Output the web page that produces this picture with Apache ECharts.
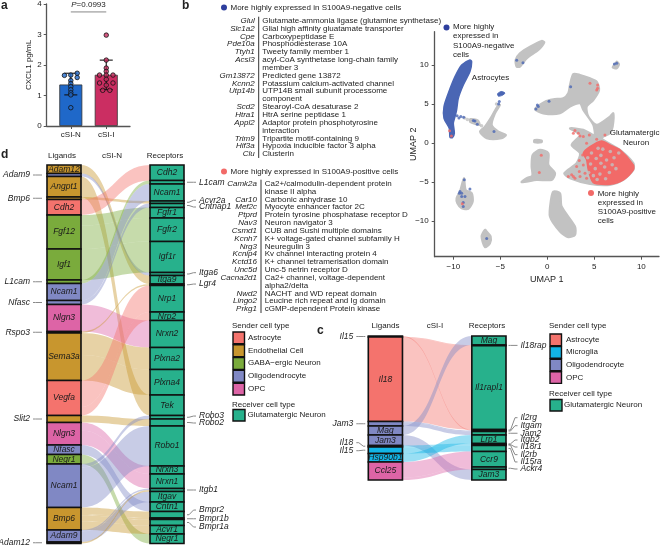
<!DOCTYPE html>
<html><head><meta charset="utf-8">
<style>html,body{margin:0;padding:0;background:#fff}#c{width:660px;height:545px}</style>
<script src="https://cdn.jsdelivr.net/npm/echarts@6/dist/echarts.min.js"></script>
</head><body><div id="c"></div>
<script>
// ---------- panel a ----------
const aGroups = ['cSI-N', 'cSI-I'];
const aMeans = [1.36, 1.68];
const aErrLow = [1.02, 1.19];
const aErrHigh = [1.73, 2.16];
const aDotsN = [[0.82,1.66],[1.18,1.73],[1.18,1.59],[1,1.67],[1,1.49],[1,1.39],[1,1.29],[1,1.19],[1,1.09],[1,1.02],[1,0.6]];
const aDotsI = [[2,2.98],[2,2.16],[2,1.9],[2,1.79],[2,1.67],[1.81,1.67],[2.19,1.67],[2,1.53],[1.81,1.41],[2.19,1.41],[2,1.34],[1.9,1.17],[2.1,1.17]];
const aPValue = '=0.0993';
// ---------- panel b gene lists ----------
const negGenes = ['Glul','Slc1a2','Cpe','Pde10a','Ttyh1','Acsl3','Gm13872','Kcnn2','Utp14b','Scd2','Htra1','Appl2','Trim9','Hif3a','Clu'];
const negDesc = ['Glutamate-ammonia ligase (glutamine synthetase)','Glial high affinity gluatamate transporter','Carboxypeptidase E','Phosphodiesterase 10A','Tweety family member 1','acyl-CoA synthetase long-chain family\nmember 3','Predicted gene 13872','Potassium calcium-activated channel','UTP14B small subunit processome\ncomponent','Stearoyl-CoA desaturase 2','HtrA serine peptidase 1','Adaptor protein phosphotyrosine\ninteraction','Tripartite motif-containing 9','Hypoxia inducible factor 3 alpha','Clusterin'];
const posGenes = ['Camk2a','Car10','Mef2c','Ptprd','Nav3','Csmd1','Kcnh7','Nrg3','Kcnip4','Kctd16','Unc5d','Cacna2d1','Nwd2','Lingo2','Prkg1'];
const posDesc = ['Ca2+/calmodulin-dependent protein\nkinase II alpha','Carbonic anhydrase 10','Myocyte enhancer factor 2C','Protein tyrosine phosphatase receptor D','Neuron navigator 3','CUB and Sushi multiple domains','K+ voltage-gated channel subfamily H','Neuregulin 3','Kv channel interacting protein 4','K+ channel tetramerisation domain','Unc-5 netrin receptor D','Ca2+ channel, voltage-dependent\nalpha2/delta','NACHT and WD repeat domain','Leucine rich repeat and Ig domain','cGMP-dependent Protein kinase'];
// ---------- UMAP (in UMAP units) ----------
const greyBlobs = [
 [[-3.37,10.64],[-2.91,11.5],[-1.84,12.35],[-0.6,13.08],[-0.32,12.9],[-0.96,11.92],[-2.2,10.85],[-2.91,9.79],[-3.26,9.79]],
 [[7.27,10.2],[7.38,10.43],[7.62,10.09],[7.38,9.57],[6.95,9.7]],
 [[-1.31,4.32],[-0.25,5.3],[0.64,5.6],[1.7,5.73],[2.23,6.37],[2.41,7.44],[2.77,8.85],[3.48,8.72],[4.54,8.29],[5.25,7.86],[5.5,6.79],[4.89,5.51],[4.18,4.66],[4.36,3.38],[5.25,2.31],[6.67,3.38],[7.02,3.8],[6.95,2.1],[6.67,1.24],[5.78,0.6],[7.73,-0.9],[9.15,-2.6],[9.15,-3.46],[8.09,-4.74],[6.67,-5.38],[4.54,-5.26],[2.41,-4.53],[1.81,-3.89],[3.12,-2.6],[3.48,-1.32],[2.59,-0.26],[3.48,1.03],[2.41,1.88],[3.83,1.67],[5.0,1.0],[4.89,2.31],[3.83,4.23],[3.48,5.09],[2.41,4.66],[1.35,3.8],[-0.43,3.8]],
 [[-5.32,4.66],[-5.92,3.38],[-6.63,2.09],[-7.16,1.45],[-6.45,0.6],[-4.86,0.6],[-4.4,1.03],[-5.21,1.45],[-5.92,2.31],[-5.57,3.8],[-5.04,4.87]],
 [[-1.67,-3.03],[-1.56,-1.54],[-0.78,-0.9],[0.11,-1.32],[0.11,-2.82],[0.82,-3.89],[0.46,-4.74],[-1.13,-4.74],[-2.73,-5.04],[-2.2,-4.53],[-1.6,-4.2]],
 [[0.64,-6.24],[1.35,-6.45],[1.52,-8.16],[2.94,-10.73],[2.94,-11.79],[2.23,-12.09],[1.35,-11.37],[0.28,-9.44],[0.39,-7.31]],
 [[-9.65,-7.09],[-9.29,-6.24],[-8.87,-4.53],[-8.69,-6.03],[-8.05,-6.45],[-7.94,-7.52],[-8.4,-8.46],[-9.11,-8.38],[-9.57,-7.74]],
 [[-6.63,-11.15],[-6.99,-12.0],[-6.63,-13.38],[-6.1,-12.86],[-6.03,-12.0],[-6.45,-11.37]],
 [[-1.38,0.35],[-0.6,0.3],[-0.6,0.1],[-1.38,0.1]],
 [[-8.2,3.05],[-7.4,2.9],[-7.2,2.3],[-7.6,2.4],[-8.2,2.7]]
];
const greyDots = [[-8.8,3.2],[-8.5,3.0],[-8.1,2.9],[-7.0,2.2],[-6.6,1.9],[-5.4,5.0],[4.7,-1.3],[5.2,-2],[4.6,-2.7],[5.1,-3.3],[5.7,-1.6],[4.9,-4.2],[5.6,-4],[6.1,-3.1],[6.3,-2.2],[5.9,-0.8],[6.7,-1.1],[5.3,-4.7],[6.6,-3.8],[4.4,-3.8],[7.1,-1.9],[6.2,-4.6],[5.7,-2.6],[5.4,-0.7],[7.6,-1.3],[7.3,-3.3],[6.9,-2.8],[4.3,-1.9]];
const astroBlob = [[-8.23,10.64],[-8.05,10.43],[-8.23,9.15],[-8.94,7.44],[-9.47,5.73],[-9.65,4.23],[-9.82,3.38],[-10,2.52],[-9.89,1.24],[-10.1,0.68],[-10.35,0.73],[-10.43,1.88],[-10.99,3.16],[-10.99,4.66],[-10.53,6.37],[-9.82,8.5],[-9.11,10]];
const blueBlob = [[-5.3,6.3],[-4.9,6.6],[-4.5,6.4],[-4.8,6.1],[-5.2,6.0]];
const redBlob = [[3.83,-1.32],[4.54,-0.47],[5.78,0.26],[6.67,-0.26],[7.73,-0.9],[9.15,-2.82],[9.15,-3.46],[8.09,-4.74],[6.67,-5.3],[4.89,-5.09],[4.36,-3.46],[4.18,-2.18]];
const blueDots = [[-3.26,10.6],[-2.59,10.3],[2.48,7.22],[0.18,5.34],[-1.06,4.87],[-1.21,4.36],[-0.96,4.66],[7.13,10.13],[7.38,10.21],[-5.11,5.3],[-5.18,5.0],[-7.7,2.82],[-7.45,2.39],[-7.87,2.86],[-5.67,1.45],[-8.83,-4.74],[-9.29,-6.24],[-9.11,-6.45],[-9.36,-6.45],[-9.11,-6.88],[-8.76,-6.88],[-8.23,-5.9],[-8.94,-7.65],[-8.94,-8.16],[-6.45,-12.26],[-9.6,3.5],[-9.2,3.4],[-8.9,3.3],[-9.4,3.2]];
const redDots = [[-10.4,1.55],[-10.2,0.9],[-9.04,-7.82],[-0.64,-1.58],[-0.85,-3.8],[4.54,7.65],[5.35,7.44],[5.35,7.01],[5.25,6.79],[2.94,1.58],[2.77,1.24],[3.3,1.24],[3.83,0.81],[4.47,1.03],[4.18,-0.04],[5.25,0.47],[3.48,0.9],[6.13,1.03],[2.23,-4.32],[2.59,-4.1],[3.12,-3.03],[3.4,-3.68],[3.83,-2.82],[3.48,-4.32],[4.01,-3.89],[4.18,-4.53],[2.94,-4.53],[3.76,-1.54],[3.4,-2.26],[2.77,-4.32]];
// ---------- alluvial d ----------
const senderColors = {Astrocyte:'#f4736d',Endo:'#c8962e',GABA:'#7aab3c',Oligo:'#8088c4',OPC:'#dd64a6',Micro:'#12b5e6'};
const receiverColor = '#27b18c';
const dLigands = ['Adam12','Adam9','Angpt1','Bmp6','Cdh2','Fgf12','Igf1','L1cam','Ncam1','Nfasc','Nlgn3','Rspo3','Sema3a','Vegfa','Slit2','Nlgn3','Nfasc','Negr1','Ncam1','Bmp6','Adam9','Adam12'];
const dSenders = ['Endo','Oligo','Endo','Endo','Astrocyte','GABA','GABA','GABA','Oligo','Oligo','OPC','Endo','Endo','Astrocyte','Endo','OPC','Oligo','GABA','Oligo','Endo','Oligo','Endo'];
const dReceptors = ['Cdh2','L1cam','Ncam1','Acvr2a','Cntnap1','Fgfr1','Fgfr2','Igf1r','Itga6','Itga9','Lgr4','Nrp1','Nrp2','Nrxn2','Plxna2','Plxna4','Tek','Robo3','Robo2','Robo1','Nrxn3','Nrxn1','Itgb1','Itgav','Cntn1','Bmpr2','Bmpr1b','Bmpr1a','Acvr1','Negr1'];
const dFlows = [[0,'Itga9',8.5],[1,'Itga6',3],[2,'Tek',20.5],[3,'Acvr2a',2.5],[4,'Cdh2',15.5],[5,'Fgfr1',10.5],[5,'Fgfr2',23.5],[6,'Igf1r',31],[7,'L1cam',3.5],[8,'Ncam1',17],[9,'Cntnap1',4],[10,'Nrxn2',27],[11,'Lgr4',1.5],[12,'Plxna2',22],[12,'Plxna4',25.5],[13,'Nrp1',26.5],[13,'Nrp2',8.5],[14,'Robo2',7],[15,'Nrxn3',8],[15,'Nrxn1',14.5],[16,'Cntn1',9.5],[17,'Negr1',9.5],[18,'Robo3',3.5],[18,'Robo1',40],[19,'Bmpr2',6.5],[19,'Bmpr1b',1.5],[19,'Bmpr1a',6],[19,'Acvr1',8.5],[20,'Itgb1',1.5],[20,'Itgav',10.5],[21,'Itgb1',1.5]];
const dRightShift = {Acvr2a:-2,Cntnap1:1.5,Itga6:-1.3,Lgr4:-0.7,Robo3:-1.2,Robo2:0.5,Bmpr2:-4.7,Bmpr1a:4.5};
// ---------- alluvial c ----------
const cLigands = ['Il15','Il18','Jam3','Mag','Jam3','Il18','Il15','Hsp90b1','Ccl25'];
const cSenders = ['Astrocyte','Astrocyte','Oligo','Oligo','Oligo','Micro','Micro','Micro','OPC'];
const cReceptors = ['Mag','Il18rap','Il1rapl1','Il2rg','Itgam','Jam2','Lrp1','Itgb2','Il18r1','Il2rb','Il15ra','Ccr9','Ackr4','Jam3'];
const cFlows = [[0,'Il2rg',1],[1,'Il18rap',0.8],[1,'Il1rapl1',83.7],[2,'Itgam',1],[2,'Jam2',3.5],[3,'Mag',9],[4,'Jam3',10.5],[5,'Itgb2',0.7],[5,'Il18r1',0.7],[6,'Il2rb',0.5],[6,'Il15ra',6.1],[7,'Lrp1',8.5],[8,'Ccr9',15.5],[8,'Ackr4',2.5]];
const cLeftShift = {5:-3.5,6:0.5};
const cRightShift = {Il2rg:-12.3,Itgam:-5.3,Jam2:0,Itgb2:-3.85,Il18r1:2.45,Il2rb:9.5,Il15ra:13.5,Ackr4:0.75};
// legends
const dLegend = [['Astrocyte','Astrocyte'],['Endothelial Cell','Endo'],['GABA\u2212ergic Neuron','GABA'],['Oligodendrocyte','Oligo'],['OPC','OPC']];
const cLegend = [['Astrocyte','Astrocyte'],['Microglia','Micro'],['Oligodendrocyte','Oligo'],['OPC','OPC']];

const FONT = '"Liberation Sans",Arial,sans-serif';
const TXT = '#222';
const chart = echarts.init(document.getElementById('c'));

function buildAlluvial(ligands, senders, receptors, flows) {
  const lh = ligands.map(()=>0), rh = {};
  receptors.forEach(r=>rh[r]=0);
  flows.forEach(f=>{lh[f[0]]+=f[2]; rh[f[1]]+=f[2];});
  let y=0; const lb=ligands.map((n,i)=>{const b={name:n,y0:y,y1:y+lh[i],color:senderColors[senders[i]],i};y+=lh[i];return b;});
  const total=y; y=0;
  const rb={}; const rl=receptors.map(n=>{const b={name:n,y0:y,y1:y+rh[n]};y+=rh[n];rb[n]=b;return b;});
  const lc=lb.map(b=>b.y0), rc={}; rl.forEach(b=>rc[b.name]=b.y0);
  const ribbons=flows.map(f=>{const a=lc[f[0]];lc[f[0]]+=f[2];const b=rc[f[1]];rc[f[1]]+=f[2];return {a0:a,a1:a+f[2],b0:b,b1:b+f[2],color:lb[f[0]].color};});
  return {lb,rl,ribbons,total};
}
const X1=1,X2=2,HW=0.165;
function ribbonSeries(al,gi){
  return {type:'custom',xAxisIndex:gi,yAxisIndex:gi,silent:true,z:2,data:al.ribbons.map((r,i)=>[i,0]),
   renderItem(p,api){
    const r=al.ribbons[api.value(0)];
    const xa=api.coord([X1+HW,0])[0],xb=api.coord([X2-HW,0])[0],xm=(xa+xb)/2;
    const ya0=api.coord([1,r.a0])[1],ya1=api.coord([1,r.a1])[1],yb0=api.coord([1,r.b0])[1],yb1=api.coord([1,r.b1])[1];
    const d=`M${xa} ${ya0}C${xm} ${ya0} ${xm} ${yb0} ${xb} ${yb0}L${xb} ${yb1}C${xm} ${yb1} ${xm} ${ya1} ${xa} ${ya1}Z`;
    return {type:'path',shape:{pathData:d},style:{fill:r.color,opacity:0.43}};
   }};
}
function leader(x0,y0,x1,y1){
  const s=Math.sign(x1-x0);
  return {type:'polyline',shape:{points:[[x0,y0],[x0+s*2,y0],[x1-s*2.5,y1],[x1,y1]]},style:{stroke:'#8a8a8a',lineWidth:1,fill:null}};
}
function blockSeries(al,gi,opt){
  const items=al.lb.map(b=>({...b,side:0})).concat(al.rl.map(b=>({...b,side:1,color:receiverColor})));
  return {type:'custom',xAxisIndex:gi,yAxisIndex:gi,silent:true,z:3,clip:false,data:items.map((b,i)=>[i,0]),
   renderItem(p,api){
    const b=items[api.value(0)];
    const xc=b.side?X2:X1;
    const xl=api.coord([xc-HW,0])[0],xr=api.coord([xc+HW,0])[0];
    const y0=api.coord([xc,b.y0])[1],y1=api.coord([xc,b.y1])[1],cy=(y0+y1)/2;
    const ch=[{type:'rect',shape:{x:xl,y:y0,width:xr-xl,height:y1-y0},style:{fill:b.color,stroke:'#111',lineWidth:1.6}}];
    const font='italic 8.5px '+FONT;
    if(b.y1-b.y0>=7.5){
      ch.push({type:'text',style:{text:b.name,x:(xl+xr)/2,y:cy,align:'center',verticalAlign:'middle',font,fill:'#1a1a1a'},z2:5});
    } else if(b.side===0){
      const ly=cy+((opt.left&&opt.left[b.i])||0);
      ch.push(leader(xl-opt.gapL,cy,xl-opt.gapL-opt.lenL,ly));
      ch.push({type:'text',style:{text:b.name,x:xl-opt.gapL-opt.lenL-3,y:ly,align:'right',verticalAlign:'middle',font,fill:TXT}});
    } else {
      const ly=cy+((opt.right&&opt.right[b.name])||0);
      ch.push(leader(xr+opt.gapR,cy,xr+opt.gapR+opt.lenR,ly));
      ch.push({type:'text',style:{text:b.name,x:xr+opt.gapR+opt.lenR+3,y:ly,align:'left',verticalAlign:'middle',font,fill:TXT}});
    }
    return {type:'group',children:ch};
   }};
}
function polySeries(blobs,color,z,lw){
  return {type:'custom',xAxisIndex:1,yAxisIndex:1,silent:true,z,data:blobs.map((b,i)=>[i,0]),
   renderItem(p,api){
     const pts=blobs[api.value(0)].map(q=>api.coord(q));
     return {type:'polygon',shape:{points:pts,smooth:0.25},style:{fill:color,stroke:color,lineWidth:lw||1,lineJoin:'round'}};
   }};
}
// graphic helpers
function T(x,y,text,o={}){return {type:'text',x,y,silent:true,z:50,rotation:o.rot||0,style:{text,align:o.align||'left',verticalAlign:'middle',font:`${o.italic?'italic ':''}${o.bold?'bold ':''}${o.size||8}px ${FONT}`,fill:o.fill||TXT,lineHeight:o.lh,rich:o.rich}};}
function Dot(x,y,r,c){return {type:'circle',silent:true,z:50,shape:{cx:x,cy:y,r},style:{fill:c}};}
function Sw(x,y,w,h,c){return {type:'rect',silent:true,z:50,shape:{x,y,width:w,height:h},style:{fill:c,stroke:'#111',lineWidth:1.4}};}
function Ln(x1,y1,x2,y2,c,w){return {type:'line',silent:true,z:50,shape:{x1,y1,x2,y2},style:{stroke:c||'#333',lineWidth:w||1}};}
function geneList(genes,desc,firstY,pitch,rightX,lineX,leftX){
  const out=[];let k=0;
  genes.forEach((g,i)=>{
    out.push(T(rightX,firstY+k*pitch,g,{align:'right',italic:true}));
    desc[i].split('\n').forEach(s=>{out.push(T(leftX,firstY+k*pitch,s));k++;});
  });
  out.push(Ln(lineX,firstY-4,lineX,firstY+(k-1)*pitch+4,'#333',1));
  return out;
}
function legendBlock(x,titleY,rows,firstY,pitch,textX,recvTitleY,recvY,recvTextX){
  const out=[T(x-1,titleY,'Sender cell type')];
  rows.forEach((r,i)=>{out.push(Sw(x,firstY+i*pitch,11.5,pitch-1,senderColors[r[1]]));out.push(T(textX,firstY+i*pitch+5.5,r[0]));});
  out.push(T(x-1,recvTitleY,'Receiver cell type'));
  out.push(Sw(x,recvY,12,11.5,receiverColor));
  out.push(T(recvTextX,recvY+5.5,'Glutamatergic Neuron'));
  return out;
}
const dAl=buildAlluvial(dLigands,dSenders,dReceptors,dFlows);
const cAl=buildAlluvial(cLigands,cSenders,cReceptors,cFlows);
const axisCol='#555';
const hiddenAxis=(extra)=>Object.assign({show:false,type:'value'},extra);
const gridBox=(l,t,w,h)=>({left:l,top:t,width:w,height:h,containLabel:false});

const option={
 animation:false,
 grid:[gridBox(46.7,2.7,83.3,123.3),gridBox(434.7,31.7,224.3,225),gridBox(47,165,137,dAl.total),gridBox(368.3,336,137.7,cAl.total)],
 xAxis:[
  {gridIndex:0,type:'value',min:0.32,max:2.67,splitLine:{show:false},
   axisLine:{show:true,lineStyle:{color:axisCol,width:1.3}},
   axisTick:{show:true,length:3,lineStyle:{color:axisCol},customValues:[1,2]},
   axisLabel:{customValues:[1,2],formatter:v=>aGroups[Math.round(v)-1],fontSize:8,color:TXT,fontFamily:FONT,margin:5}},
  {gridIndex:1,type:'value',min:-11.98,max:11.88,splitLine:{show:false},
   axisLine:{show:true,onZero:false,lineStyle:{color:axisCol,width:1.3}},
   axisTick:{show:true,length:3,lineStyle:{color:axisCol},customValues:[-10,-5,0,5,10]},
   axisLabel:{customValues:[-10,-5,0,5,10],fontSize:8,color:TXT,fontFamily:FONT,margin:6,formatter:v=>String(v).replace('-','\u2212')},
   name:'UMAP 1',nameLocation:'middle',nameGap:18,nameMoveOverlap:false,nameTextStyle:{fontSize:9,color:TXT,fontFamily:FONT}},
  hiddenAxis({gridIndex:2,min:X1-HW,max:X2+HW}),
  hiddenAxis({gridIndex:3,min:X1-HW,max:X2+HW})
 ],
 yAxis:[
  {gridIndex:0,type:'value',min:0,max:4,interval:1,splitLine:{show:false},
   axisLine:{show:true,lineStyle:{color:axisCol,width:1.3}},axisTick:{show:true,length:3,lineStyle:{color:axisCol}},
   axisLabel:{fontSize:8,color:TXT,fontFamily:FONT,margin:5},
   name:'CXCL1 pg/mL',nameLocation:'middle',nameGap:14,nameMoveOverlap:false,nameRotate:90,nameTextStyle:{fontSize:8,color:TXT,fontFamily:FONT}},
  {gridIndex:1,type:'value',min:-14.6,max:14.27,splitLine:{show:false},
   axisLine:{show:true,onZero:false,lineStyle:{color:axisCol,width:1.3}},
   axisTick:{show:true,length:3,lineStyle:{color:axisCol},customValues:[-10,-5,0,5,10]},
   axisLabel:{customValues:[-10,-5,0,5,10],fontSize:8,color:TXT,fontFamily:FONT,margin:6,formatter:v=>String(v).replace('-','\u2212')},
   name:'UMAP 2',nameLocation:'middle',nameGap:17,nameMoveOverlap:false,nameRotate:90,nameTextStyle:{fontSize:9,color:TXT,fontFamily:FONT}},
  hiddenAxis({gridIndex:2,inverse:true,min:0,max:dAl.total}),
  hiddenAxis({gridIndex:3,inverse:true,min:0,max:cAl.total})
 ],
 series:[
  {type:'bar',xAxisIndex:0,yAxisIndex:0,barWidth:23,z:2,data:aMeans.map((v,i)=>({value:[i+1,v],itemStyle:{color:i?'#cb2e62':'#1f68c9',borderColor:'#333',borderWidth:0.8}}))},
  {type:'custom',xAxisIndex:0,yAxisIndex:0,z:3,silent:true,data:aMeans.map((v,i)=>[i+1,i]),
   renderItem(p,api){const x=api.value(0),i=api.value(1);
    const lo=api.coord([x,aErrLow[i]]),hi=api.coord([x,aErrHigh[i]]),w=6.5;
    const st={stroke:'#111',lineWidth:1.1};
    return {type:'group',children:[
     {type:'line',shape:{x1:lo[0],y1:lo[1],x2:hi[0],y2:hi[1]},style:st},
     {type:'line',shape:{x1:lo[0]-w,y1:lo[1],x2:lo[0]+w,y2:lo[1]},style:st},
     {type:'line',shape:{x1:hi[0]-w,y1:hi[1],x2:hi[0]+w,y2:hi[1]},style:st}]};}},
  {type:'scatter',xAxisIndex:0,yAxisIndex:0,z:4,symbolSize:4.5,data:aDotsN,itemStyle:{color:'#1f68c9',borderColor:'#111',borderWidth:1}},
  {type:'scatter',xAxisIndex:0,yAxisIndex:0,z:4,symbolSize:4.5,data:aDotsI,itemStyle:{color:'#cb2e62',borderColor:'#111',borderWidth:1}},
  {type:'line',xAxisIndex:0,yAxisIndex:0,z:4,symbol:'none',silent:true,data:[[1,3.74],[2,3.74]],lineStyle:{color:'#888',width:1}},
  polySeries(greyBlobs,'#c2c2c2',2,2.2),
  polySeries([astroBlob],'#4a66b4',3,1.5),
  polySeries([blueBlob],'#4a66b4',3,1),
  polySeries([redBlob],'#f26a68',3,1.5),
  {type:'scatter',xAxisIndex:1,yAxisIndex:1,z:4,symbolSize:3.6,silent:true,data:greyDots,itemStyle:{color:'#c2c2c2'}},
  {type:'scatter',xAxisIndex:1,yAxisIndex:1,z:5,symbolSize:3,silent:true,data:blueDots,itemStyle:{color:'#4a66b4'}},
  {type:'scatter',xAxisIndex:1,yAxisIndex:1,z:5,symbolSize:3,silent:true,data:redDots,itemStyle:{color:'#f26a68'}},
  ribbonSeries(dAl,2),
  blockSeries(dAl,2,{gapL:5,lenL:9,gapR:3,lenR:9,right:dRightShift}),
  ribbonSeries(cAl,3),
  blockSeries(cAl,3,{gapL:3,lenL:9,gapR:2.5,lenR:9,left:cLeftShift,right:cRightShift})
 ],
 graphic:{elements:[
  T(1,6,'a',{bold:true,size:12}),T(182,6,'b',{bold:true,size:12}),T(1,155,'d',{bold:true,size:12}),T(317,331,'c',{bold:true,size:12}),
  T(88.5,4.5,'{i|P}'+aPValue,{align:'center',size:8,rich:{i:{font:'italic 8px '+FONT,fill:TXT}}}),
  Dot(224,7.5,3,'#2e3f9e'),T(230.5,7.5,'More highly expressed in S100A9-negative cells'),
  Dot(224,171.5,3,'#f26a68'),T(230.5,172,'More highly expressed in S100A9-positive cells'),
  ...geneList(negGenes,negDesc,20.7,7.84,254.7,258.7,262.3),
  ...geneList(posGenes,posDesc,183.7,7.83,257,261,264.7),
  Dot(446.5,27.5,3,'#2e3f9e'),
  ...['More highly','expressed in','S100A9-negative','cells'].map((s,i)=>T(453,26.7+i*9.4,s)),
  T(490.5,78,'Astrocytes',{align:'center'}),
  T(659.5,132.7,'Glutamatergic',{align:'right'}),T(636,142.3,'Neuron',{align:'center'}),
  Dot(591,193,3,'#f26a68'),
  ...['More highly','expressed in','S100A9-positive','cells'].map((s,i)=>T(597.7,193.3+i*9.3,s)),
  T(62,156,'Ligands',{align:'center'}),T(112,156,'cSI-N',{align:'center'}),T(165,156,'Receptors',{align:'center'}),
  T(385.5,326,'Ligands',{align:'center'}),T(435,326,'cSI-I',{align:'center'}),T(487,326,'Receptors',{align:'center'}),
  ...legendBlock(233,326,dLegend,332,12.8,248,405,409.5,247.5),
  ...legendBlock(550,326,cLegend,334,12.6,566,394,399.5,564)
 ]}
};
chart.setOption(option);
</script></body></html>
